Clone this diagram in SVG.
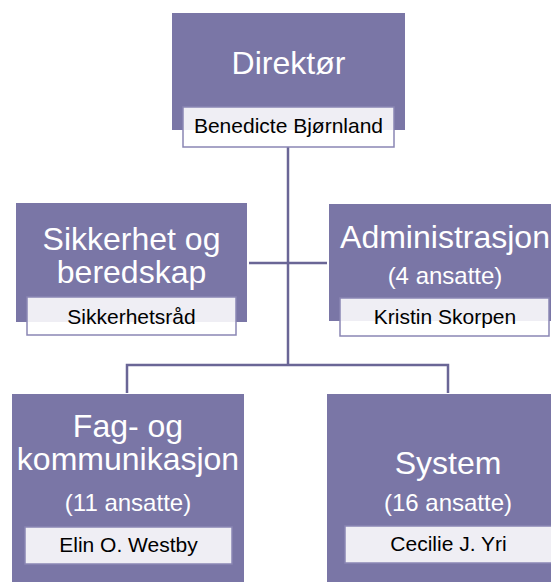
<svg xmlns="http://www.w3.org/2000/svg" width="551" height="582" viewBox="0 0 551 582">
<style>
.box{fill:#7a76a6}
.lbl{fill:#ffffff;fill-opacity:0.88;stroke:#8a86b4;stroke-width:1.5}
.t{font-family:"Liberation Sans",Arial,sans-serif;fill:#ffffff;text-anchor:middle}
.big{font-size:32px}
.mid{font-size:24px}
.n{font-family:"Liberation Sans",Arial,sans-serif;fill:#000000;text-anchor:middle;font-size:21px}
.con{fill:none;stroke:#6a6696;stroke-width:2.5}
</style>
<rect width="551" height="582" fill="#ffffff"/>
<g id="connectors">
<path class="con" d="M288,147 V365"/>
<path class="con" d="M249,263 H327"/>
<path class="con" d="M127,393 V365 H448 V393"/>
</g>
<g id="direktor">
<rect class="box" x="172" y="13" width="233" height="117"/>
<text class="t big" x="288.5" y="74">Direktør</text>
<rect class="lbl" x="183" y="107" width="211" height="40"/>
<text class="n" x="288.5" y="133">Benedicte Bjørnland</text>
</g>
<g id="sikkerhet">
<rect class="box" x="16" y="203" width="231" height="119"/>
<text class="t big" x="131.5" y="250">Sikkerhet og</text>
<text class="t big" x="131.5" y="283">beredskap</text>
<rect class="lbl" x="27" y="297" width="209" height="38"/>
<text class="n" x="131.5" y="324">Sikkerhetsråd</text>
</g>
<g id="administrasjon">
<rect class="box" x="329" y="204" width="232" height="117"/>
<text class="t big" x="445" y="248">Administrasjon</text>
<text class="t mid" x="445" y="284">(4 ansatte)</text>
<rect class="lbl" x="340" y="298" width="209" height="38"/>
<text class="n" x="445" y="324">Kristin Skorpen</text>
</g>
<g id="fag">
<rect class="box" x="12" y="394" width="232" height="200"/>
<text class="t big" x="128" y="437">Fag- og</text>
<text class="t big" x="128" y="470">kommunikasjon</text>
<text class="t mid" x="128" y="511">(11 ansatte)</text>
<rect class="lbl" x="25" y="527" width="207" height="37"/>
<text class="n" x="128.5" y="552">Elin O. Westby</text>
</g>
<g id="system">
<rect class="box" x="327" y="394" width="242" height="200"/>
<text class="t big" x="448" y="474">System</text>
<text class="t mid" x="448" y="511">(16 ansatte)</text>
<rect class="lbl" x="345" y="526" width="207" height="37"/>
<text class="n" x="448.5" y="551">Cecilie J. Yri</text>
</g>
</svg>
